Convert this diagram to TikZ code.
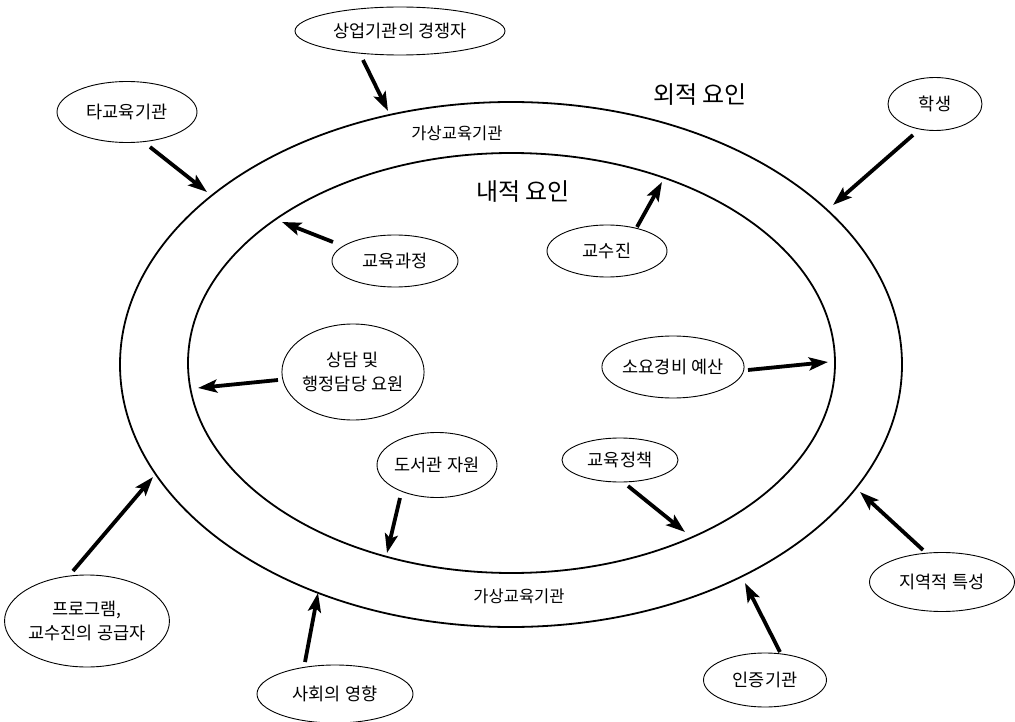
\documentclass[tikz,border=0pt]{standalone}
\usepackage{fontspec}
\usepackage{tikz}
\usetikzlibrary{shapes.geometric,arrows.meta}
\newfontfamily\kr{Noto Sans CJK KR}

\begin{document}
\begin{tikzpicture}[x=1pt,y=1pt,yscale=-1,xscale=1,
  factor/.style={draw,ellipse,line width=0.9pt,inner sep=0pt,align=center,font=\kr\fontsize{17.5}{24}\selectfont},
  title/.style={inner sep=0pt,font=\kr\fontsize{24}{28}\selectfont},
  ring/.style={inner sep=0pt,font=\kr\fontsize{16.5}{20}\selectfont},
  push/.style={line width=3.8pt,-{Stealth[length=19pt,width=13pt,inset=4pt]}}]
\useasboundingbox (0,0) rectangle (1015,722);
% rings
\draw [line width=1.8pt] (511,364.5) ellipse (391 and 262.5);
\draw [line width=1.8pt] (511.5,363) ellipse (323.5 and 210);
\node [title] (outside) at (700,95) {외적 요인};
\node [title] (inside) at (523,192) {내적 요인};
\node [ring] (ringtop) at (457,133) {가상교육기관};
\node [ring] (ringbot) at (519,596) {가상교육기관};
% external factors
\node [factor,minimum width=210,minimum height=48] (rival) at (400,31) {상업기관의 경쟁자};
\node [factor,minimum width=140,minimum height=61] (other) at (127,112) {타교육기관};
\node [factor,minimum width=94,minimum height=53] (student) at (935,104) {학생};
\node [factor,minimum width=160,minimum height=92] (supplier) at (87,621) {프로그램,\\교수진의 공급자};
\node [factor,minimum width=156,minimum height=58] (society) at (335,694) {사회의 영향};
\node [factor,minimum width=123,minimum height=54] (accredit) at (765,680) {인증기관};
\node [factor,minimum width=145,minimum height=59] (region) at (942,582) {지역적 특성};
% internal factors
\node [factor,minimum width=126,minimum height=52] (course) at (395,261) {교육과정};
\node [factor,minimum width=120,minimum height=52] (faculty) at (607,251) {교수진};
\node [factor,minimum width=141,minimum height=96] (staff) at (353,372) {상담 및\\행정담당 요원};
\node [factor,minimum width=133,minimum height=62] (budget) at (673,367) {소요경비 예산};
\node [factor,minimum width=120,minimum height=65] (library) at (437,465) {도서관 자원};
\node [factor,minimum width=116,minimum height=44] (policy) at (620,460) {교육정책};
% arrow ends on the rings
\coordinate (rivalend) at (388,111);
\coordinate (otherend) at (207,192);
\coordinate (studentend) at (833,205);
\coordinate (supplierend) at (153,477);
\coordinate (societyend) at (318,593);
\coordinate (accreditend) at (745,583);
\coordinate (regionend) at (860,492);
\coordinate (courseend) at (282,222);
\coordinate (facultyend) at (662,182);
\coordinate (staffend) at (198,388);
\coordinate (budgetend) at (828,362);
\coordinate (libraryend) at (387,553);
\coordinate (policyend) at (685,532);
% arrows
\draw [push] (363,60) -- (rivalend);
\draw [push] (150,147) -- (otherend);
\draw [push] (913,135) -- (studentend);
\draw [push] (73,571) -- (supplierend);
\draw [push] (305,662) -- (societyend);
\draw [push] (780,652) -- (accreditend);
\draw [push] (923,550) -- (regionend);
\draw [push] (333,242) -- (courseend);
\draw [push] (637,227) -- (facultyend);
\draw [push] (278,380) -- (staffend);
\draw [push] (748,370) -- (budgetend);
\draw [push] (400,498) -- (libraryend);
\draw [push] (628,486) -- (policyend);
\end{tikzpicture}
\end{document}
